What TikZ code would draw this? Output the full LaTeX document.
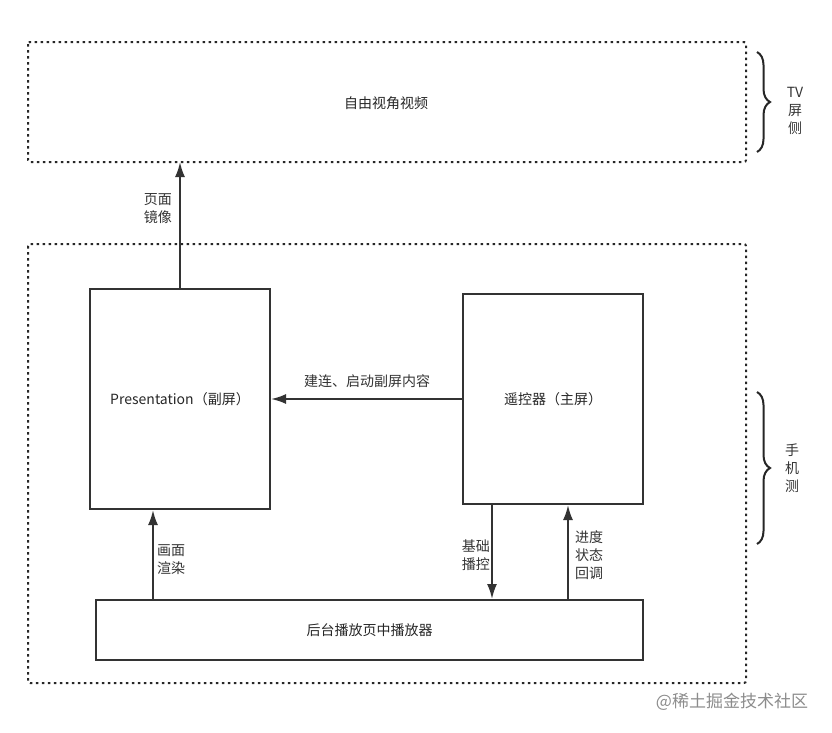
\documentclass[tikz,border=0pt]{standalone}
\usepackage{fontspec}
\setmainfont{Noto Sans CJK SC}
\usetikzlibrary{arrows.meta,decorations.pathreplacing}
\begin{document}
\begin{tikzpicture}[x=1pt,y=-1pt,
  dotbox/.style={draw=black!85,line width=2pt,dash pattern=on 2.5pt off 3.5pt,rounded corners=2pt},
  solidbox/.style={draw=black!80,line width=2pt},
  arr/.style={draw=black!80,line width=2pt,-{Latex[length=15pt,width=10pt]}},
  lbl/.style={font=\fontsize{14}{18}\selectfont,text=black!80,align=left,inner sep=0pt},
  brc/.style={draw=black!85,line width=2pt,decorate,decoration={brace,amplitude=13pt}},
  every node/.style={font=\fontsize{14}{17}\selectfont,text=black!85}]
\useasboundingbox (0,0) rectangle (832,732);
% boxes
\draw[dotbox] (28,42) rectangle (746,162);
\node (tv) at (386,103) {自由视角视频};
\coordinate (tvb) at (180,162);
\draw[dotbox] (28,244) rectangle (746,683);
\node[solidbox,minimum width=180pt,minimum height=220pt,inner sep=0pt] (pres) at (180,399) {};
\node at (pres.center) {Presentation（副屏）};
\node[solidbox,minimum width=180pt,minimum height=210pt,inner sep=0pt] (rem) at (553,399) {};
\node at (rem.center) {遥控器（主屏）};
\node[solidbox,minimum width=547pt,minimum height=60pt,inner sep=0pt] (bot) at (369.5,630) {};
\node at (bot.center) {后台播放页中播放器};
% arrows
\draw[arr] (pres.north) -- (tvb);
\node[lbl,anchor=east] (l1) at (172,209) {页面\\镜像};
\draw[arr] (rem.west) -- (pres.east);
\node[lbl] (l2) at (367,381) {建连、启动副屏内容};
\draw[arr] (bot.north -| 153,0) -- (pres.south -| 153,0);
\node[lbl,anchor=west] (l3) at (157,560) {画面\\渲染};
\draw[arr] (rem.south -| 492,0) -- (bot.north -| 492,0);
\node[lbl,anchor=east] (l4) at (490,555) {基础\\播控};
\draw[arr] (bot.north -| 568,0) -- (rem.south -| 568,0);
\node[lbl,anchor=west] (l5) at (575,555) {进度\\状态\\回调};
% braces
\draw[brc] (757,52) -- (757,152);
\node[lbl,align=center] (b1) at (795,111) {TV\\屏\\侧};
\draw[brc] (757,392) -- (757,544);
\node[lbl,align=center] (b2) at (792,468) {手\\机\\测};
% watermark
\node[text=black!45,font=\fontsize{17}{19}\selectfont] (wm) at (732,702) {@稀土掘金技术社区};
\end{tikzpicture}
\end{document}
